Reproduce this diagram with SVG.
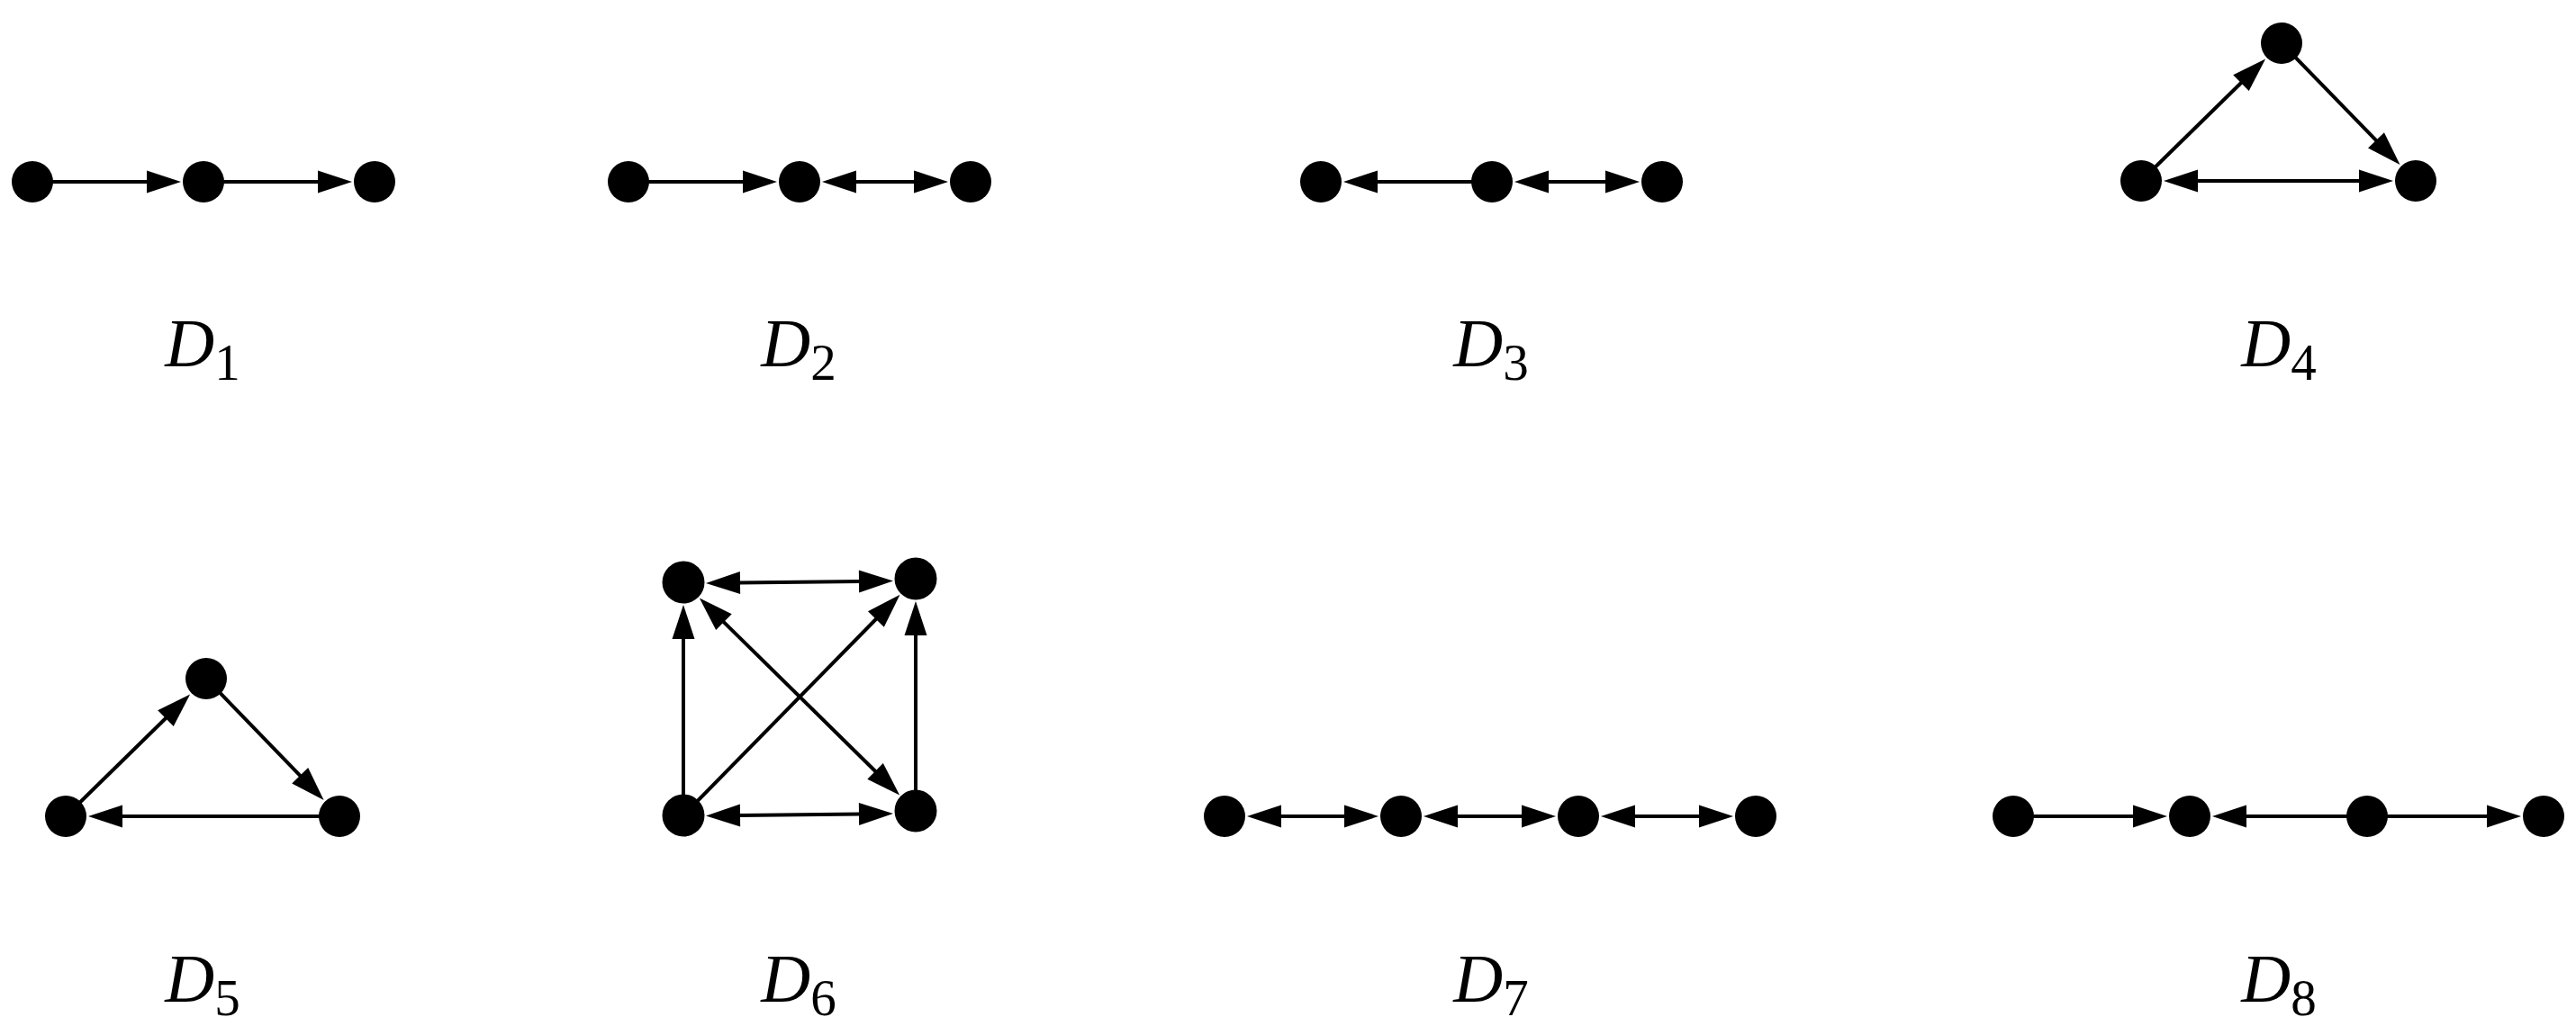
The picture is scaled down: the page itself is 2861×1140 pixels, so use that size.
<svg xmlns="http://www.w3.org/2000/svg" width="2861" height="1140" viewBox="0 0 2861 1140">
<style>
.n{fill:#000}
.e{stroke:#000;stroke-width:4;fill:none}
.a{marker-end:url(#ah)}
.s{marker-start:url(#ah)}
.lbl{font-family:"Liberation Serif","Times New Roman",serif;font-style:italic;font-size:76px;fill:#000;text-anchor:middle}
.sub{font-style:normal;font-size:57px}
</style>
<defs>
<marker id="ah" markerUnits="userSpaceOnUse" markerWidth="44" markerHeight="30" viewBox="-4 -15 44 30" refX="0" refY="0" orient="auto-start-reverse">
<path d="M-2,-12.5 L36,0 L-2,12.5 z" fill="#000"/>
</marker>
</defs>
<rect width="2861" height="1140" fill="#fff"/>
<g id="connectors">
<!-- D1 -->
<line class="e a" x1="36" y1="202" x2="165" y2="202"/>
<line class="e a" x1="226" y1="202" x2="355" y2="202"/>
<!-- D2 -->
<line class="e a" x1="698" y1="202" x2="827" y2="202"/>
<line class="e a s" x1="949" y1="202" x2="1017" y2="202"/>
<!-- D3 -->
<line class="e a" x1="1657" y1="202" x2="1528" y2="202"/>
<line class="e a s" x1="1718" y1="202" x2="1785" y2="202"/>
<!-- D4 -->
<line class="e a" x1="2378" y1="201" x2="2490.4" y2="90.7"/>
<line class="e a" x1="2534" y1="48" x2="2640.4" y2="157.3"/>
<line class="e a s" x1="2439" y1="201" x2="2622" y2="201"/>
<!-- D5 -->
<line class="e a" x1="73" y1="907" x2="185.4" y2="796.7"/>
<line class="e a" x1="229" y1="754" x2="334.6" y2="863.2"/>
<line class="e a" x1="377" y1="907" x2="134" y2="907"/>
<!-- D6 -->
<line class="e a s" x1="820" y1="647.5" x2="956" y2="646"/>
<line class="e a" x1="759" y1="906" x2="759" y2="708"/>
<line class="e a" x1="1017" y1="901" x2="1017" y2="704"/>
<line class="e a" x1="759" y1="906" x2="974.3" y2="686.5"/>
<line class="e a s" x1="802.5" y1="689.8" x2="973.5" y2="858.2"/>
<line class="e a s" x1="820" y1="906" x2="956" y2="904.5"/>
<!-- D7 -->
<line class="e a s" x1="1421" y1="907" x2="1495" y2="907"/>
<line class="e a s" x1="1617" y1="907" x2="1692" y2="907"/>
<line class="e a s" x1="1814" y1="907" x2="1889" y2="907"/>
<!-- D8 -->
<line class="e a" x1="2236" y1="907" x2="2371" y2="907"/>
<line class="e a" x1="2629" y1="907" x2="2493" y2="907"/>
<line class="e a" x1="2629" y1="907" x2="2764" y2="907"/>
</g>
<g id="D1">
<circle class="n" cx="36" cy="202" r="23"/>
<circle class="n" cx="226" cy="202" r="23"/>
<circle class="n" cx="416" cy="202" r="23"/>
<text class="lbl" x="225" y="407">D<tspan class="sub" dy="15">1</tspan></text>
</g>
<g id="D2">
<circle class="n" cx="698" cy="202" r="23"/>
<circle class="n" cx="888" cy="202" r="23"/>
<circle class="n" cx="1078" cy="202" r="23"/>
<text class="lbl" x="887" y="407">D<tspan class="sub" dy="15">2</tspan></text>
</g>
<g id="D3">
<circle class="n" cx="1467" cy="202" r="23"/>
<circle class="n" cx="1657" cy="202" r="23"/>
<circle class="n" cx="1846" cy="202" r="23"/>
<text class="lbl" x="1656" y="407">D<tspan class="sub" dy="15">3</tspan></text>
</g>
<g id="D4">
<circle class="n" cx="2534" cy="48" r="23"/>
<circle class="n" cx="2378" cy="201" r="23"/>
<circle class="n" cx="2683" cy="201" r="23"/>
<text class="lbl" x="2531" y="407">D<tspan class="sub" dy="15">4</tspan></text>
</g>
<g id="D5">
<circle class="n" cx="229" cy="754" r="23"/>
<circle class="n" cx="73" cy="907" r="23"/>
<circle class="n" cx="377" cy="907" r="23"/>
<text class="lbl" x="225" y="1113">D<tspan class="sub" dy="15">5</tspan></text>
</g>
<g id="D6">
<circle class="n" cx="759" cy="647" r="23.5"/>
<circle class="n" cx="1017" cy="643" r="23.5"/>
<circle class="n" cx="759" cy="906" r="23.5"/>
<circle class="n" cx="1017" cy="901" r="23.5"/>
<text class="lbl" x="887" y="1113">D<tspan class="sub" dy="15">6</tspan></text>
</g>
<g id="D7">
<circle class="n" cx="1360" cy="907" r="23"/>
<circle class="n" cx="1556" cy="907" r="23"/>
<circle class="n" cx="1753" cy="907" r="23"/>
<circle class="n" cx="1950" cy="907" r="23"/>
<text class="lbl" x="1656" y="1113">D<tspan class="sub" dy="15">7</tspan></text>
</g>
<g id="D8">
<circle class="n" cx="2236" cy="907" r="23"/>
<circle class="n" cx="2432" cy="907" r="23"/>
<circle class="n" cx="2629" cy="907" r="23"/>
<circle class="n" cx="2825" cy="907" r="23"/>
<text class="lbl" x="2531" y="1113">D<tspan class="sub" dy="15">8</tspan></text>
</g>
</svg>
